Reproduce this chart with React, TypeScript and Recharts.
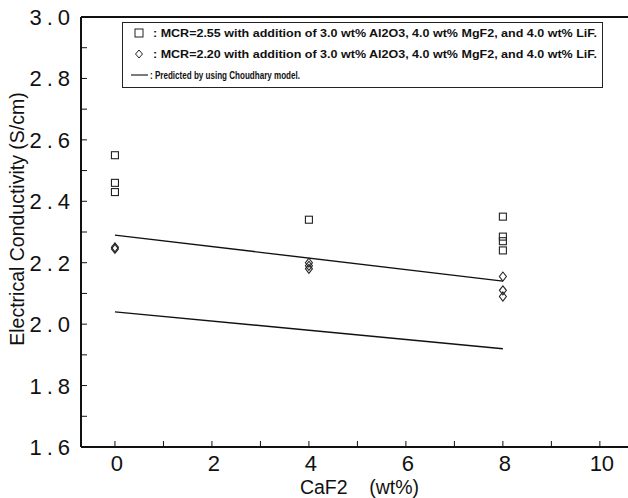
import React from 'react';
import { ScatterChart, Scatter, XAxis, YAxis, Legend, ReferenceLine } from 'recharts';

// CaF2 content (wt%) ticks
const xTicks = [0, 1, 2, 3, 4, 5, 6, 7, 8, 9, 10];
const yTicks = [1.6, 1.7, 1.8, 1.9, 2.0, 2.1, 2.2, 2.3, 2.4, 2.5, 2.6, 2.7, 2.8, 2.9, 3.0];

// measured conductivity, MCR = 2.55
const mcr255 = [
  { x: 0, y: 2.55 },
  { x: 0, y: 2.46 },
  { x: 0, y: 2.43 },
  { x: 4, y: 2.34 },
  { x: 8, y: 2.35 },
  { x: 8, y: 2.285 },
  { x: 8, y: 2.27 },
  { x: 8, y: 2.24 },
];

// measured conductivity, MCR = 2.20
const mcr220 = [
  { x: 0, y: 2.25 },
  { x: 0, y: 2.245 },
  { x: 4, y: 2.2 },
  { x: 4, y: 2.19 },
  { x: 4, y: 2.18 },
  { x: 8, y: 2.155 },
  { x: 8, y: 2.11 },
  { x: 8, y: 2.09 },
];

// Choudhary model predictions
const model255 = [
  { x: 0, y: 2.29 },
  { x: 8, y: 2.14 },
];
const model220 = [
  { x: 0, y: 2.04 },
  { x: 8, y: 1.92 },
];

const legendRows = [
  ': MCR=2.55 with addition of 3.0 wt% Al2O3, 4.0 wt% MgF2, and 4.0 wt% LiF.',
  ': MCR=2.20 with addition of 3.0 wt% Al2O3, 4.0 wt% MgF2, and 4.0 wt% LiF.',
  ': Predicted by using Choudhary model.',
];

const FONT = '"Liberation Sans", Arial, sans-serif';
const INK = '#111';

const SquareMark = ({ cx, cy }: any) => (
  <rect x={cx - 3.5} y={cy - 3.5} width={7} height={7} fill="none" stroke="#222" strokeWidth={1.1} />
);

const DiamondMark = ({ cx, cy }: any) => (
  <path
    d={`M${cx},${cy - 4.5}L${cx + 3.5},${cy}L${cx},${cy + 4.5}L${cx - 3.5},${cy}Z`}
    fill="none"
    stroke="#222"
    strokeWidth={1.1}
  />
);

const NoMark = () => <g />;

const YTick = ({ x, y, payload }: any) => {
  const v = payload.value as number;
  const major = Math.round(v * 10) % 2 === 0;
  return (
    <g>
      <line x1={x} y1={y} x2={x + 6} y2={y} stroke={INK} strokeWidth={1} />
      {major && (
        <text x={x - 6} y={y + 8} textAnchor="end" fontSize={22} letterSpacing={5} fill={INK} fontFamily={FONT}>
          {v.toFixed(1)}
        </text>
      )}
    </g>
  );
};

const XTick = ({ x, y, payload }: any) => {
  const v = payload.value as number;
  return (
    <g>
      <line x1={x} y1={y} x2={x} y2={y - 6} stroke={INK} strokeWidth={1} />
      {v % 2 === 0 && (
        <text x={x + 2} y={y + 24} textAnchor="middle" fontSize={22} fill={INK} fontFamily={FONT}>
          {v}
        </text>
      )}
    </g>
  );
};

const YTitle = ({ viewBox }: any) => {
  const cx = viewBox.x + 24;
  const cy = viewBox.y + viewBox.height / 2 - 13;
  return (
    <text
      x={cx}
      y={cy}
      transform={`rotate(-90, ${cx}, ${cy})`}
      textAnchor="middle"
      fontSize={19.5}
      fill={INK}
      fontFamily={FONT}
    >
      Electrical Conductivity (S/cm)
    </text>
  );
};

const XTitle = ({ viewBox }: any) => (
  <text
    x={viewBox.x + viewBox.width / 2 + 5}
    y={viewBox.y + 47}
    textAnchor="middle"
    fontSize={19.5}
    fill={INK}
    fontFamily={FONT}
    style={{ whiteSpace: 'pre' }}
  >
    {'CaF2    (wt%)'}
  </text>
);

const LegendBox = () => (
  <svg width={482} height={67} style={{ display: 'block' }}>
    <rect x={0.5} y={0.5} width={480} height={65} fill="#fff" stroke="#222" strokeWidth={1} />
    <rect x={13} y={7} width={8} height={8} fill="none" stroke="#222" strokeWidth={1} />
    <path d="M17,28L20.5,32L17,36L13.5,32Z" fill="none" stroke="#222" strokeWidth={1} />
    <line x1={9} y1={53} x2={26} y2={53} stroke="#222" strokeWidth={1.2} />
    {legendRows.map((t, i) => (
      <text
        key={i}
        x={i === 2 ? 28 : 31}
        y={15 + i * 21}
        fontSize={10.5}
        fontWeight="bold"
        fill="#111"
        fontFamily={FONT}
        textLength={i === 2 ? 150 : 444}
        lengthAdjust="spacingAndGlyphs"
      >
        {t}
      </text>
    ))}
  </svg>
);

export default function App() {
  return (
    <div style={{ position: 'absolute', left: 0, top: 0, background: '#fff' }}>
      <ScatterChart width={628} height={498} margin={{ top: 17, right: 0, bottom: 0, left: 0 }} style={{ fontFamily: FONT }}>
        <XAxis
          type="number"
          dataKey="x"
          domain={[-0.7, 10.58]}
          ticks={xTicks}
          interval={0}
          height={51}
          tickSize={0}
          tickMargin={0}
          tick={<XTick />}
          axisLine={{ stroke: INK, strokeWidth: 2 }}
          label={XTitle}
        />
        <YAxis
          type="number"
          dataKey="y"
          domain={[1.6, 3.0]}
          ticks={yTicks}
          interval={0}
          width={81}
          tickSize={0}
          tickMargin={0}
          tick={<YTick />}
          axisLine={{ stroke: INK, strokeWidth: 2 }}
          label={YTitle}
        />
        <ReferenceLine y={3.0} stroke={INK} strokeWidth={2} />
        <Legend
          layout="horizontal"
          verticalAlign="middle"
          align="center"
          wrapperStyle={{ left: 122, top: 22, width: 482 }}
          content={LegendBox}
        />
        <Scatter data={model255} shape={NoMark} line={{ stroke: INK, strokeWidth: 1.4 }} isAnimationActive={false} />
        <Scatter data={model220} shape={NoMark} line={{ stroke: INK, strokeWidth: 1.4 }} isAnimationActive={false} />
        <Scatter data={mcr255} shape={SquareMark} isAnimationActive={false} />
        <Scatter data={mcr220} shape={DiamondMark} isAnimationActive={false} />
      </ScatterChart>
    </div>
  );
}
